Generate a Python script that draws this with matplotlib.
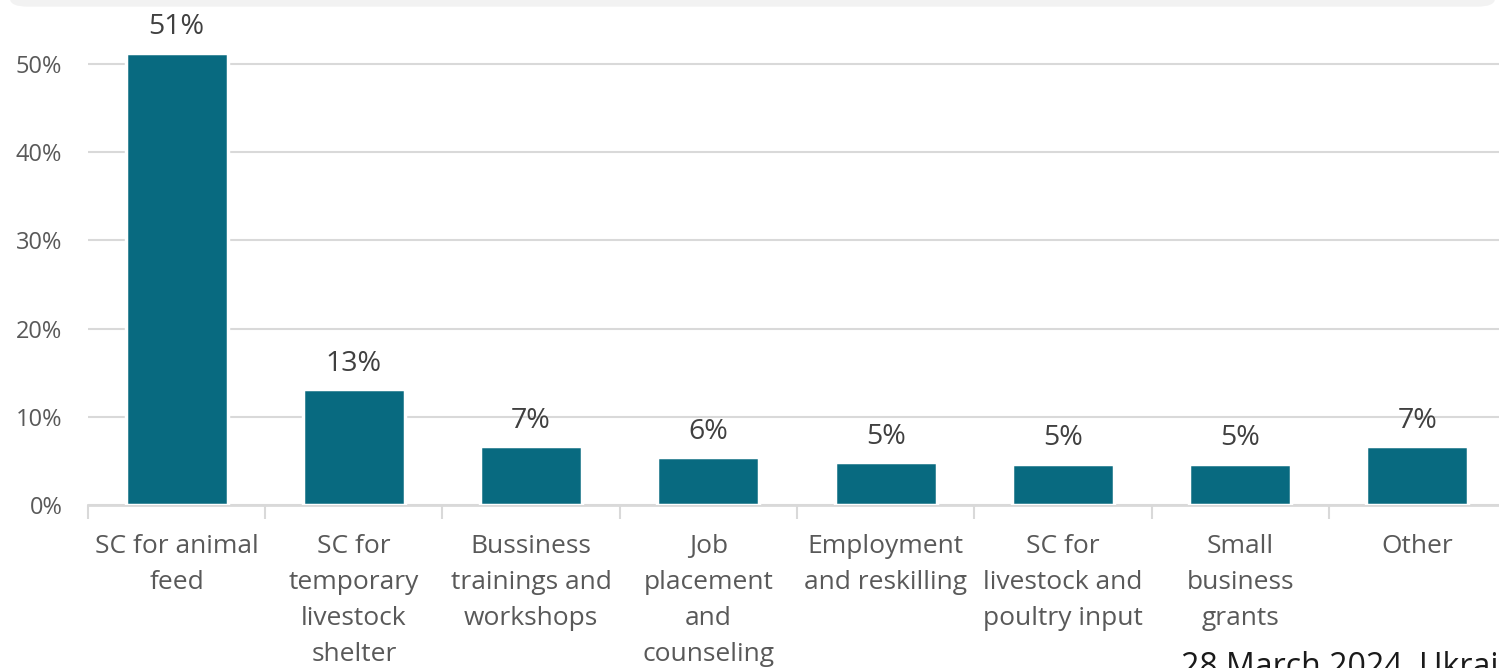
import matplotlib.pyplot as plt
from matplotlib.patches import FancyBboxPatch
import numpy as np

plt.rcParams['font.family'] = ['Open Sans', 'DejaVu Sans']

categories = ["SC for animal\nfeed", "SC for\ntemporary\nlivestock\nshelter",
              "Bussiness\ntrainings and\nworkshops", "Job\nplacement\nand\ncounseling",
              "Employment\nand reskilling", "SC for\nlivestock and\npoultry input",
              "Small\nbusiness\ngrants", "Other"]
values = [51.3, 13.1, 6.7, 5.4, 4.9, 4.7, 4.7, 6.7]
labels = ["51%", "13%", "7%", "6%", "5%", "5%", "5%", "7%"]
yticks = [0, 10, 20, 30, 40, 50]

W, H = 1499, 668
fig = plt.figure(figsize=(W / 100, H / 100), dpi=100)

# grey rounded box peeking in at the top
fig.patches.append(FancyBboxPatch((10 / W, 0.99), 1485 / W, 0.05,
                                  boxstyle="round,pad=0,rounding_size=0.012",
                                  transform=fig.transFigure, fc="#f2f2f2", ec="none"))

x0, x1 = 88, 1506
ybase, ytop = 505, 505 - 55 * 8.82
ax = fig.add_axes([x0 / W, (H - ybase) / H, (x1 - x0) / W, (ybase - ytop) / H])

x = np.arange(len(categories))
bars = ax.bar(x, values, width=0.575, color="#086a80", edgecolor="white",
              linewidth=2.5, zorder=3)
for rect, lab in zip(bars, labels):
    ax.annotate(lab, (rect.get_x() + rect.get_width() / 2, rect.get_height()),
                xytext=(0, 8), textcoords="offset points", ha="center", va="bottom",
                fontsize=20.5, color="#404040")

ax.set_xlim(-0.5, len(categories) - 0.5)
ax.set_ylim(0, 55)
ax.set_yticks(yticks, [f"{v}%" for v in yticks])
ax.yaxis.grid(True, color="#d9d9d9", linewidth=1.5, zorder=0)
ax.set_axisbelow(True)

# category labels centred, tick marks at the boundaries
ax.set_xticks(x, categories)
ax.tick_params(axis="x", which="major", length=0, pad=21, labelsize=19,
               labelcolor="#595959")
for t in ax.get_xticklabels():
    t.set_linespacing(1.58)
    t.set_verticalalignment("top")
ax.set_xticks(np.arange(len(categories) + 1) - 0.5, minor=True)
ax.tick_params(axis="x", which="minor", length=10, width=1.5, color="#d9d9d9")
ax.tick_params(axis="y", length=0, pad=18.5, labelsize=17, labelcolor="#595959")

for s in ["top", "right", "left"]:
    ax.spines[s].set_visible(False)
ax.spines["bottom"].set_color("#d9d9d9")
ax.spines["bottom"].set_linewidth(2)

# source line, cut by the right and bottom edges as in the original
fig.text(1181 / W, 1 - 651 / H, "28 March 2024, Ukraine", fontsize=23,
         color="#1a1a1a", ha="left", va="top")

fig.savefig("out.png", dpi=100)
